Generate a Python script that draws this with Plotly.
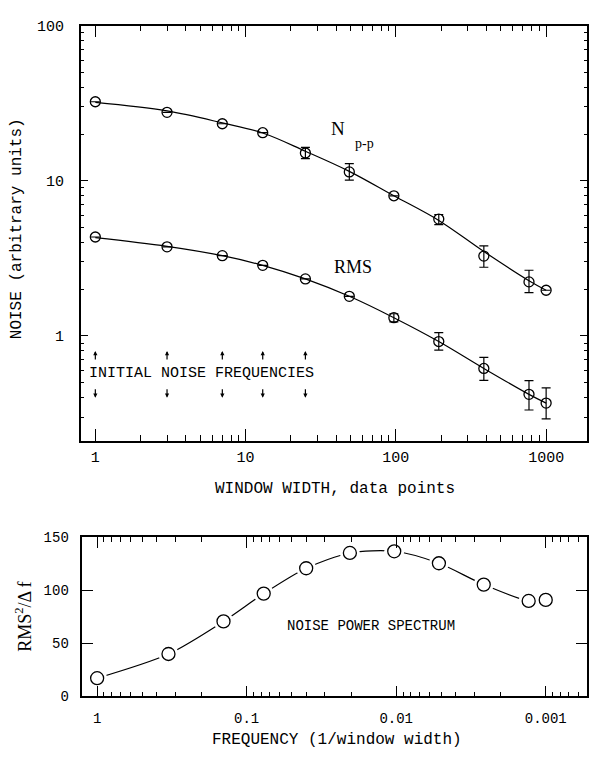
import math
import plotly.graph_objects as go

# Window widths (data points) and measured noise levels
window_width = [1, 3, 7, 13, 25, 49, 97, 193, 385, 769, 1000]
npp = [32.3, 27.6, 23.3, 20.4, 15.1, 11.4, 8.0, 5.66, 3.27, 2.23, 1.97]
npp_err_plus = [0, 0, 0, 0, 1.3, 1.5, 0, 0.4, 0.53, 0.42, 0]
npp_err_minus = [0, 0, 0, 0, 1.2, 1.3, 0, 0.45, 0.5, 0.33, 0]
rms = [4.34, 3.75, 3.29, 2.85, 2.33, 1.80, 1.31, 0.92, 0.617, 0.42, 0.369]
rms_err_plus = [0, 0, 0, 0, 0, 0, 0.08, 0.13, 0.11, 0.095, 0.094]
rms_err_minus = [0, 0, 0, 0, 0, 0, 0.08, 0.11, 0.10, 0.087, 0.077]

# Smooth fitted curves drawn through the measurements
npp_fit = [32.0, 28.2, 23.6, 20.3, 15.5, 11.5, 8.0, 5.55, 3.5, 2.27, 1.97]
rms_fit = [4.30, 3.78, 3.29, 2.85, 2.33, 1.80, 1.31, 0.92, 0.617, 0.42, 0.369]

# Initial noise frequencies (marked by arrows)
initial_noise = [1, 3, 7, 13, 25]

# Noise power spectrum: frequency = 1/window width
frequency = [1.0 / w for w in window_width]
power = [17.2, 40.0, 70.7, 96.9, 120.8, 135.2, 136.8, 125.5, 105.4, 90.0, 91.0]

# Tick definitions
width_ticks = [1, 10, 100, 1000]
width_ticktext = ["1", "10", "100", "1000"]
noise_ticks = [1, 10, 100]
noise_ticktext = ["1", "10", "100"]
freq_ticks = [1, 0.1, 0.01, 0.001]
freq_ticktext = ["1", "0.1", "0.01", "0.001"]
power_ticks = [0, 50, 100, 150]

MONO = "Liberation Mono"
SERIF = "Liberation Serif"
INK = "black"


def minor_decades(lo_exp, hi_exp):
    vals = []
    for e in range(lo_exp, hi_exp + 1):
        for m in range(2, 10):
            vals.append(m * 10 ** e)
    return vals


fig = go.Figure()

# --- upper panel: noise vs window width ---
for series, fit, ep, em in ((npp, npp_fit, npp_err_plus, npp_err_minus),
                            (rms, rms_fit, rms_err_plus, rms_err_minus)):
    fig.add_trace(go.Scatter(
        x=window_width, y=fit, mode="lines",
        line=dict(color=INK, width=1.2, shape="spline", smoothing=1.0),
        xaxis="x", yaxis="y", hoverinfo="skip", showlegend=False))
    fig.add_trace(go.Scatter(
        x=window_width, y=series, mode="markers",
        marker=dict(symbol="circle-open", size=10, color=INK, line=dict(width=1.3, color=INK)),
        error_y=dict(type="data", array=ep, arrayminus=em, symmetric=False,
                     color=INK, thickness=1.2, width=4.5),
        xaxis="x", yaxis="y", showlegend=False))

# --- lower panel: noise power spectrum ---
fig.add_trace(go.Scatter(
    x=frequency, y=power, mode="lines",
    line=dict(color=INK, width=1.2, shape="spline", smoothing=0.8),
    xaxis="x2", yaxis="y2", hoverinfo="skip", showlegend=False))
fig.add_trace(go.Scatter(
    x=frequency, y=power, mode="markers",
    marker=dict(symbol="circle", size=20, color="white", line=dict(width=0)),
    xaxis="x2", yaxis="y2", hoverinfo="skip", showlegend=False))
fig.add_trace(go.Scatter(
    x=frequency, y=power, mode="markers",
    marker=dict(symbol="circle", size=13, color="white", line=dict(width=1.3, color=INK)),
    xaxis="x2", yaxis="y2", showlegend=False))

axis_common = dict(
    showline=True, linecolor=INK, linewidth=1.5, mirror="allticks",
    ticks="inside", tickcolor=INK, tickwidth=1.2, showgrid=False, zeroline=False,
    tickfont=dict(family=MONO, size=15, color=INK),
)

fig.update_layout(
    width=589, height=758,
    margin=dict(l=0, r=0, t=0, b=0),
    paper_bgcolor="white", plot_bgcolor="white",
    xaxis=dict(
        axis_common, type="log", domain=[81 / 589, 588 / 589],
        range=[-0.0963, 3.272], anchor="y",
        tickvals=width_ticks, ticktext=width_ticktext, ticklen=12,
        ticklabelstandoff=2,
        minor=dict(ticks="inside", ticklen=6, tickcolor=INK, tickwidth=1,
                   tickvals=minor_decades(0, 3), showgrid=False),
    ),
    yaxis=dict(
        axis_common, type="log", domain=[1 - 443 / 758, 1 - 19 / 758],
        range=[-0.675, 2], anchor="x",
        tickvals=noise_ticks, ticktext=noise_ticktext, ticklen=7,
        ticklabelstandoff=12,
        minor=dict(ticks="inside", ticklen=3, tickcolor=INK, tickwidth=1,
                   tickvals=minor_decades(-1, 1), showgrid=False),
    ),
    xaxis2=dict(
        axis_common, type="log", domain=[82.5 / 589, 588 / 589],
        range=[0.0988, -3.276], anchor="y2",
        tickvals=freq_ticks, ticktext=freq_ticktext, ticklen=11,
        ticklabelstandoff=8,
        tickfont=dict(family=MONO, size=14, color=INK),
        minor=dict(ticks="inside", ticklen=5, tickcolor=INK, tickwidth=1,
                   tickvals=minor_decades(-4, -1), showgrid=False),
    ),
    yaxis2=dict(
        axis_common, domain=[1 - 704.3 / 758, 1 - 541.7 / 758],
        range=[0, 150], anchor="x2",
        tickvals=power_ticks, ticklen=11, ticklabelstandoff=9,
        tickfont=dict(family=MONO, size=14, color=INK),
    ),
)

centered = dict(xanchor="center", yanchor="middle", showarrow=False)

annotations = [
    # axis titles
    dict(centered, text="WINDOW WIDTH, data points", xref="paper", yref="paper",
         x=336 / 589, y=1 - 492 / 758,
         font=dict(family=MONO, size=16, color=INK)),
    dict(centered, text="NOISE (arbitrary units)", xref="paper", yref="paper",
         x=17 / 589, y=1 - 226 / 758, textangle=-90,
         font=dict(family=MONO, size=16, color=INK)),
    dict(centered, text="FREQUENCY (1/window width)", xref="paper", yref="paper",
         x=338 / 589, y=1 - 749 / 758,
         font=dict(family=MONO, size=16, color=INK)),
    dict(centered, text="RMS<sup>2</sup>/Δ f", xref="paper", yref="paper",
         x=24 / 589, y=1 - 623 / 758, textangle=-90,
         font=dict(family=SERIF, size=18, color=INK)),
    # series labels
    dict(centered, text="N", xref="x", yref="y", x=math.log10(41), y=math.log10(21.8),
         font=dict(family=SERIF, size=19, color=INK)),
    dict(centered, text="p-p", xref="x", yref="y", x=math.log10(62), y=math.log10(17.4),
         font=dict(family=SERIF, size=14, color=INK)),
    dict(centered, text="RMS", xref="x", yref="y", x=math.log10(52), y=math.log10(2.80),
         font=dict(family=SERIF, size=18, color=INK)),
    dict(text="INITIAL NOISE FREQUENCIES", xref="x", yref="y",
         x=math.log10(0.878), y=math.log10(0.57), xanchor="left", yanchor="middle",
         showarrow=False, font=dict(family=MONO, size=15, color=INK)),
    dict(centered, text="NOISE POWER SPECTRUM", xref="x2", yref="y2",
         x=math.log10(0.0148), y=66,
         font=dict(family=MONO, size=14, color=INK)),
]

# small arrows above and below the initial-frequency caption
for w in initial_noise:
    annotations.append(dict(x=math.log10(w), y=math.log10(0.80), xref="x", yref="y",
                            ax=0, ay=10, showarrow=True, arrowhead=2, arrowsize=0.7,
                            arrowwidth=1.2, arrowcolor=INK, text=""))
    annotations.append(dict(x=math.log10(w), y=math.log10(0.40), xref="x", yref="y",
                            ax=0, ay=-10, showarrow=True, arrowhead=2, arrowsize=0.7,
                            arrowwidth=1.2, arrowcolor=INK, text=""))

fig.update_layout(annotations=annotations)

fig.write_html("out.html")
